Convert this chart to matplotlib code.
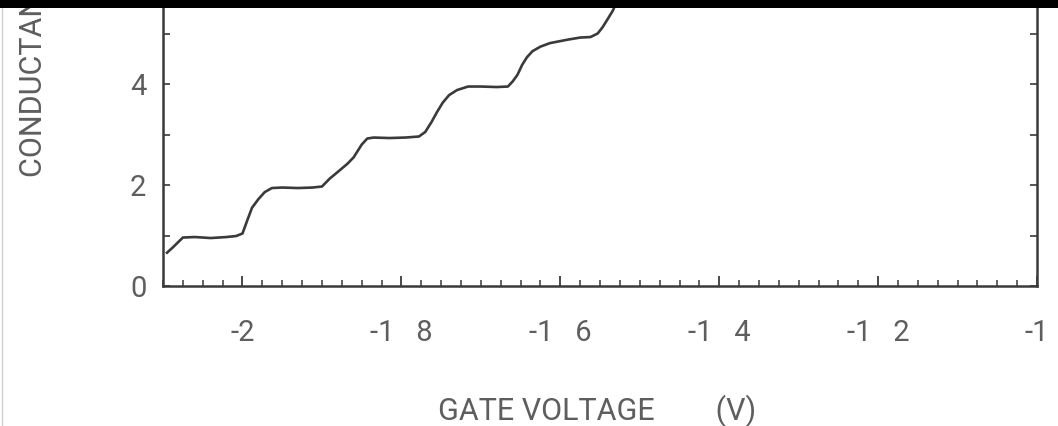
import matplotlib
matplotlib.use("Agg")
import matplotlib.pyplot as plt
from matplotlib.patches import Rectangle
from matplotlib.lines import Line2D
from matplotlib.ticker import MultipleLocator, FixedLocator

# gate sweep: conductance in units of 2e^2/h
gate_voltage = [-2.095, -2.088, -2.075, -2.060, -2.040, -2.020, -2.008, -2.000,
                -1.994, -1.988, -1.980, -1.972, -1.963, -1.950, -1.930, -1.912,
                -1.900, -1.890, -1.880, -1.868, -1.860, -1.850, -1.843, -1.835,
                -1.815, -1.795, -1.778, -1.770, -1.762, -1.755, -1.748, -1.740,
                -1.730, -1.716, -1.700, -1.680, -1.666, -1.660, -1.654, -1.648,
                -1.642, -1.635, -1.625, -1.613, -1.600, -1.590, -1.575, -1.562,
                -1.553, -1.547, -1.541, -1.534, -1.527]
conductance = [0.66, 0.76, 0.96, 0.97, 0.95, 0.97, 0.99, 1.04,
               1.30, 1.55, 1.72, 1.86, 1.94, 1.95, 1.94, 1.95,
               1.97, 2.13, 2.26, 2.42, 2.55, 2.80, 2.92, 2.94,
               2.93, 2.94, 2.96, 3.05, 3.25, 3.45, 3.63, 3.78,
               3.88, 3.95, 3.95, 3.94, 3.95, 4.05, 4.18, 4.38,
               4.53, 4.65, 4.74, 4.81, 4.85, 4.88, 4.92, 4.93,
               5.00, 5.12, 5.27, 5.45, 5.70]

x_ticks = [-2.0, -1.8, -1.6, -1.4, -1.2, -1.0]
x_labels = ["-2", "-1   8", "-1   6", "-1   4", "-1   2", "-1"]
y_ticks = [0, 2, 4]
y_labels = ["0", "2", "4"]

ink = "#3a3a3a"
text_grey = "#5e5e5e"
plt.rcParams["font.family"] = ["Roboto", "DejaVu Sans"]

fig = plt.figure(figsize=(10.58, 4.26), dpi=100)
ax = fig.add_axes([0.1541, 0.3286, 0.8261, 0.7113])

ax.plot(gate_voltage, conductance, color=ink, lw=1.9, solid_joinstyle="round")

ax.set_xlim(-2.1, -1.0)
ax.set_ylim(0, 6)

ax.xaxis.set_major_locator(FixedLocator(x_ticks))
ax.xaxis.set_minor_locator(MultipleLocator(0.025))
ax.set_xticklabels(x_labels)
ax.yaxis.set_major_locator(FixedLocator(y_ticks))
ax.yaxis.set_minor_locator(MultipleLocator(1))
ax.set_yticklabels(y_labels)

ax.tick_params(axis="both", which="both", direction="in", color=ink,
               labelcolor=text_grey, labelsize=21)
ax.tick_params(axis="x", which="major", length=7, width=1.3, pad=24)
ax.tick_params(axis="x", which="minor", length=4, width=1.1)
ax.tick_params(axis="y", which="both", length=5, width=1.2, right=True, pad=12)

for side in ["left", "right", "bottom", "top"]:
    ax.spines[side].set_color(ink)
    ax.spines[side].set_linewidth(1.8)

ax.set_xlabel("GATE VOLTAGE        (V)", fontsize=22, color=text_grey, va="baseline")
ax.xaxis.set_label_coords(597 / 1058, 6 / 426, transform=fig.transFigure)

fig.text(0.0312, 0.5845, "CONDUCTANCE (2e\u00b2/h)", rotation=90, ha="center",
         va="bottom", fontsize=22, color=text_grey)

# dark strip along the top and faint edge on the left
fig.patches.append(Rectangle((0, 1 - 8 / 426), 1, 8 / 426, transform=fig.transFigure,
                             facecolor="black", edgecolor="none", zorder=10))
fig.add_artist(Line2D([1.5 / 1058, 1.5 / 1058], [0, 1 - 8 / 426],
                      transform=fig.transFigure, color="#d0d0d0", lw=1.0, zorder=9))

fig.savefig("out.png", dpi=100)
